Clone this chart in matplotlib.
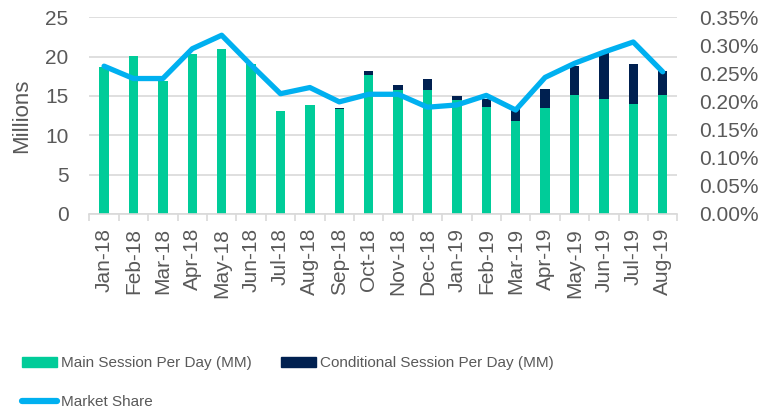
import numpy as np
import matplotlib
matplotlib.use("Agg")
import matplotlib.pyplot as plt
from matplotlib.patches import Patch
from matplotlib.lines import Line2D

plt.rcParams['font.family'] = ['Liberation Sans', 'DejaVu Sans']

# data
months = ['Jan-18', 'Feb-18', 'Mar-18', 'Apr-18', 'May-18', 'Jun-18', 'Jul-18',
          'Aug-18', 'Sep-18', 'Oct-18', 'Nov-18', 'Dec-18', 'Jan-19', 'Feb-19',
          'Mar-19', 'Apr-19', 'May-19', 'Jun-19', 'Jul-19', 'Aug-19']
main_sessions = [18.7, 20.1, 16.9, 20.3, 21.0, 19.1, 13.1, 13.85, 13.3, 17.6,
                 15.75, 15.75, 14.5, 13.6, 11.85, 13.5, 15.1, 14.6, 14.0, 15.1]
cond_sessions = [0.0, 0.0, 0.0, 0.0, 0.0, 0.0, 0.0, 0.0, 0.2, 0.6,
                 0.65, 1.4, 0.5, 1.0, 1.45, 2.35, 3.75, 5.8, 5.0, 3.1]
market_share = [0.263, 0.241, 0.241, 0.294, 0.318, 0.265, 0.214, 0.225, 0.1995, 0.213,
                0.213, 0.190, 0.194, 0.211, 0.185, 0.243, 0.268, 0.288, 0.306, 0.253]

green = '#00CC99'
navy = '#002050'
blue = '#00B0F0'
txt = '#595959'
grid_c = '#d9d9d9'

fig = plt.figure(figsize=(7.84, 4.12), dpi=100)
ax = fig.add_axes([0.114, 0.4806, 0.75, 0.4775])
x = np.arange(len(months))
w = 0.32

ax.bar(x, main_sessions, w, color=green, zorder=2)
ax.bar(x, cond_sessions, w, bottom=main_sessions, color=navy, zorder=2)

ax.set_xlim(-0.5, len(months) - 0.5)
ax.set_ylim(0, 25)
ax.set_yticks(range(0, 26, 5))
ax.yaxis.grid(True, color=grid_c, linewidth=1.2, zorder=0)
ax.set_axisbelow(True)
for s in ['top', 'right', 'left']:
    ax.spines[s].set_visible(False)
ax.spines['bottom'].set_color(grid_c)
ax.spines['bottom'].set_linewidth(1.2)

ax.set_xticks(x)
ax.set_xticklabels(months, rotation=90)
ax.set_xticks(np.arange(-0.5, len(months), 1), minor=True)
ax.tick_params(axis='x', which='major', length=0, pad=10, labelsize=15, labelcolor=txt)
ax.tick_params(axis='x', which='minor', length=5, color=grid_c, width=1.2)
ax.tick_params(axis='y', length=0, pad=15, labelsize=15, labelcolor=txt)
ax.set_ylabel('Millions', fontsize=16, color=txt)
ax.yaxis.set_label_coords(-0.098, 0.5)

ax2 = ax.twinx()
ax2.plot(x, market_share, color=blue, linewidth=3.8, solid_joinstyle='round',
         solid_capstyle='round', zorder=3)
ax2.set_ylim(0, 0.35)
yt = np.arange(0, 0.351, 0.05)
ax2.set_yticks(yt)
ax2.set_yticklabels([f'{v:.2f}%' for v in yt])
ax2.tick_params(axis='y', length=0, pad=16, labelsize=15, labelcolor=txt)
for s in ['top', 'right', 'left', 'bottom']:
    ax2.spines[s].set_visible(False)

handles = [Patch(color=green), Line2D([], [], color=blue, linewidth=4.5, solid_capstyle='round'),
           Patch(color=navy)]
labels = ['Main Session Per Day (MM)', 'Market Share', 'Conditional Session Per Day (MM)']
leg = fig.legend(handles, labels, loc='upper left', bbox_to_anchor=(0.028, 0.135),
                 ncol=2, frameon=False, fontsize=11, handlelength=2.3, handleheight=0.65,
                 handletextpad=0.25, columnspacing=1.9, labelspacing=1.6,
                 borderpad=0, borderaxespad=0)
for t in leg.get_texts():
    t.set_color(txt)

fig.savefig('out.png', dpi=100)
